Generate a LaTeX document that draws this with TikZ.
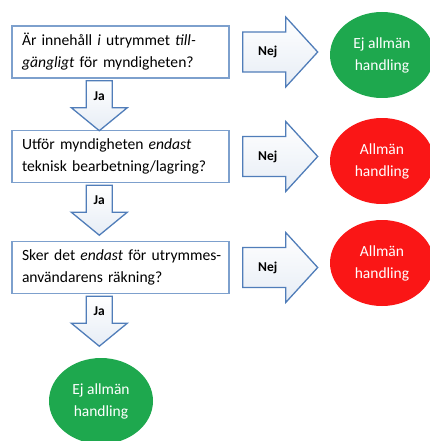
\documentclass[tikz,border=0pt]{standalone}
\usepackage{fontspec}
\setmainfont{Carlito}
\usetikzlibrary{calc,shapes.geometric}

\definecolor{boxblue}{RGB}{125,160,205}
\definecolor{pilblue}{RGB}{80,125,185}
\definecolor{jagreen}{RGB}{30,168,78}
\definecolor{nejred}{RGB}{250,22,22}

\newcommand{\indrag}{\hspace*{6.5pt}}

\tikzset{
  fraga/.style={draw=boxblue, line width=1.4pt, rectangle,
    minimum width=217pt, minimum height=52pt, text width=210pt,
    inner xsep=3.5pt, align=left, font=\fontsize{15.6}{22}\selectfont},
  svar/.style={ellipse, minimum width=104pt, minimum height=86pt,
    inner sep=0pt, text=white, align=center,
    font=\fontsize{15.5}{22}\selectfont},
  ejallman/.style={svar, fill=jagreen},
  allman/.style={svar, fill=nejred},
  pil/.style={draw=pilblue, line width=1.3pt, line join=miter,
    top color=white, bottom color=pilblue!14},
  piltext/.style={font=\bfseries\fontsize{13.5}{15}\selectfont, inner sep=1pt}
}

\begin{document}
\begin{tikzpicture}[x=1pt,y=1pt]

    \useasboundingbox (0,0) rectangle (430,-441);

    \node[fraga] (q1) at (120.5,-52)
        {\indrag Är innehåll \textit{i} utrymmet \textit{till-}\\\indrag\textit{gängligt} för myndigheten?};
    \node[fraga] (q2) at (120.5,-156.5)
        {\indrag Utför myndigheten \textit{endast}\\\indrag teknisk bearbetning/lagring?};
    \node[fraga] (q3) at (120.5,-267.5)
        {\indrag Sker det \textit{endast} för utrymmes-\\\indrag användarens räkning?};

    \node[ejallman] (c1) at (382,-55) {Ej allmän\\handling};
    \node[allman] (c2) at (382,-161) {Allmän\\handling};
    \node[allman] (c3) at (382,-263) {Allmän\\handling};
    \node[ejallman] (c4) at (101,-401) {Ej allmän\\handling};

    \coordinate (ned1) at ($(q1.south west)+(88,0)$);
    \coordinate (ned2) at ($(q2.south west)+(88,0)$);
    \coordinate (ned3) at ($(q3.south west)+(88,0)$);
    \coordinate (hog1) at ($(q1.east)+(13,0)$);
    \coordinate (hog2) at ($(q2.east)+(13,0)$);
    \coordinate (hog3) at ($(q3.east)+(13,0)$);

    \draw[pil, shift={(ned1)}] (-13,-2) -- (13,-2) -- (13,-29) -- (28,-29)
        -- (0,-52) -- (-28,-29) -- (-13,-29) -- cycle;
    \draw[pil, shift={(ned2)}] (-13,-2) -- (13,-2) -- (13,-29) -- (28,-29)
        -- (0,-52) -- (-28,-29) -- (-13,-29) -- cycle;
    \draw[pil, shift={(ned3)}] (-13,-2) -- (13,-2) -- (13,-29) -- (28,-29)
        -- (0,-52) -- (-28,-29) -- (-13,-29) -- cycle;
    \node[piltext] (ja1) at ($(ned1)+(0,-17)$) {Ja};
    \node[piltext] (ja2) at ($(ned2)+(0,-17)$) {Ja};
    \node[piltext] (ja3) at ($(ned3)+(0,-17)$) {Ja};

    \draw[pil, shift={(hog1)}] (0,20) -- (43,20) -- (43,35) -- (75,0)
        -- (43,-35) -- (43,-20) -- (0,-20) -- cycle;
    \draw[pil, shift={(hog2)}] (0,20) -- (43,20) -- (43,35) -- (75,0)
        -- (43,-35) -- (43,-20) -- (0,-20) -- cycle;
    \draw[pil, shift={(hog3)}] (0,20) -- (43,20) -- (43,35) -- (75,0)
        -- (43,-35) -- (43,-20) -- (0,-20) -- cycle;
    \node[piltext] (nej1) at ($(hog1)+(25,0)$) {Nej};
    \node[piltext] (nej2) at ($(hog2)+(25,0)$) {Nej};
    \node[piltext] (nej3) at ($(hog3)+(25,0)$) {Nej};

\end{tikzpicture}
\end{document}
